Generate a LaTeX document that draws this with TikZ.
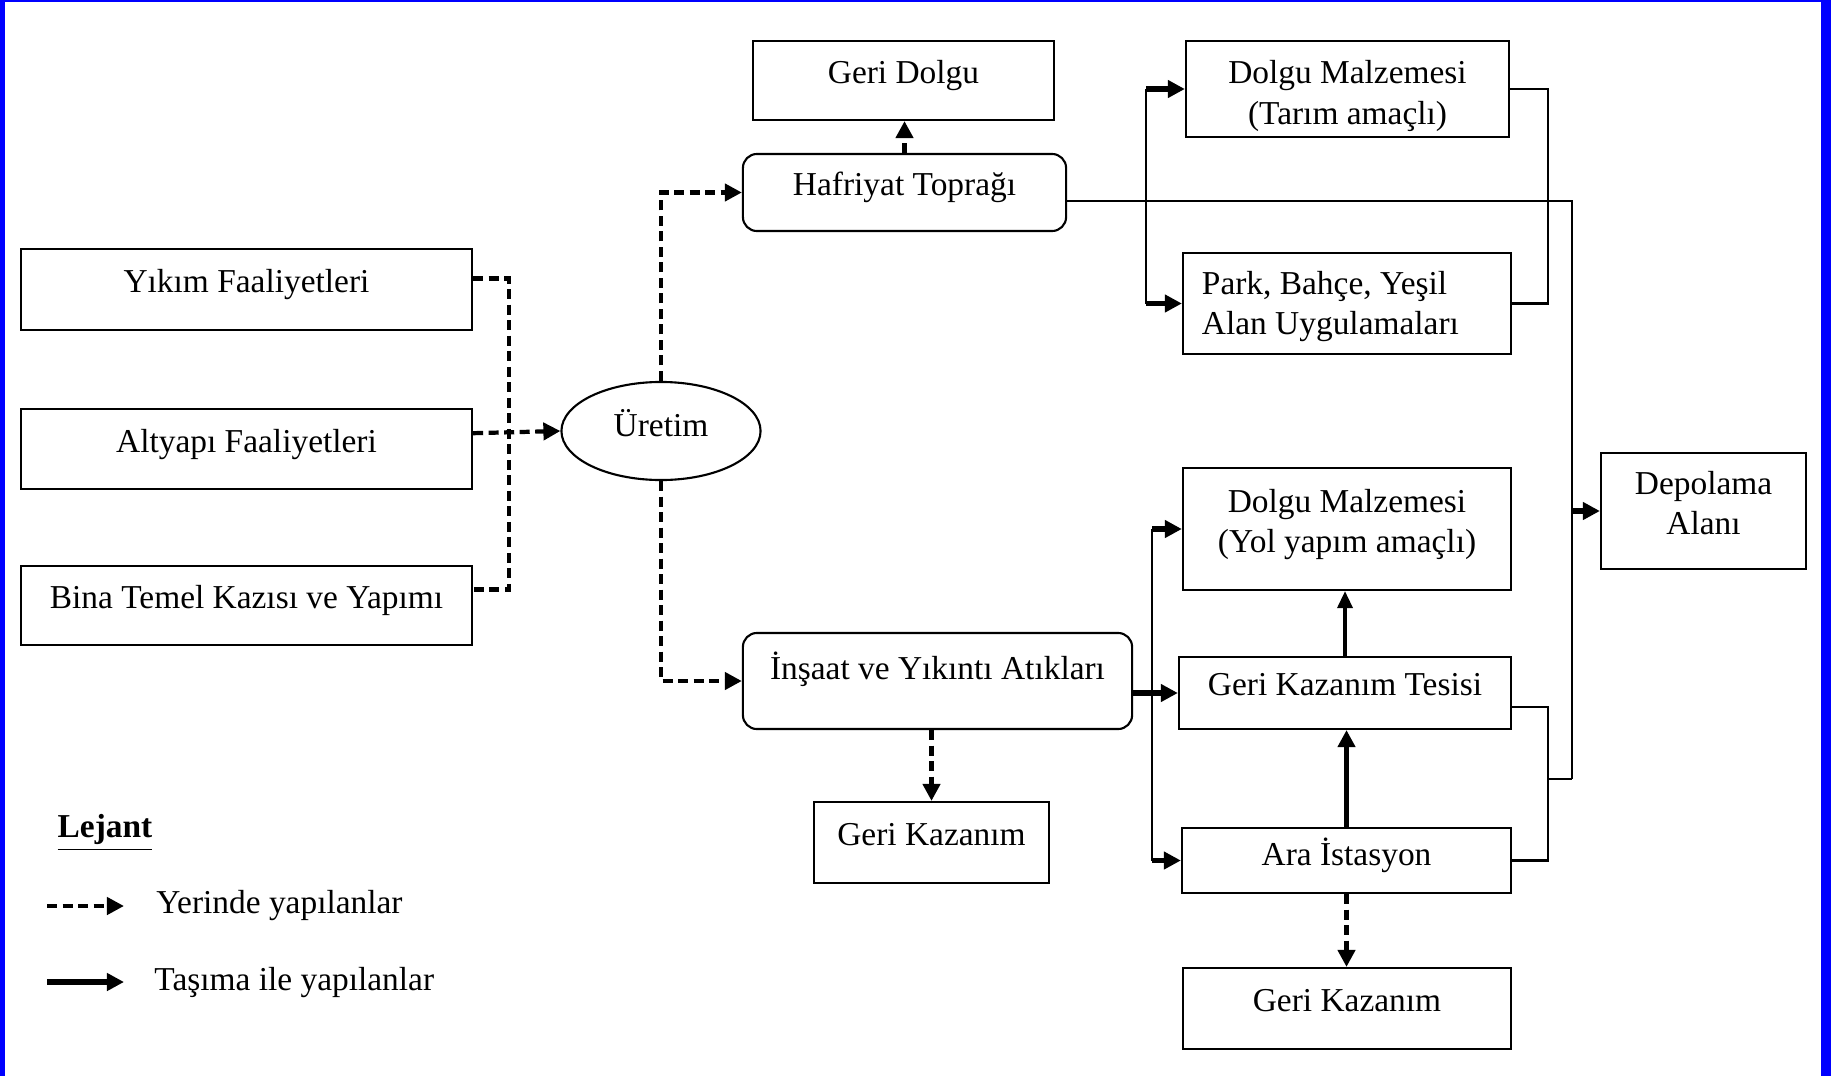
\documentclass[tikz,border=0pt]{standalone}
\usepackage{fontspec}
\setmainfont{Liberation Serif}
\usetikzlibrary{shapes.geometric, positioning, arrows.meta}

\begin{document}
\begin{tikzpicture}[x=0.01cm, y=-0.01cm,
    font=\fontsize{9.5}{11.4}\selectfont,
    box/.style={draw, rectangle, line width=0.6pt, align=center, inner sep=2pt, text depth=0.17cm},
    roundbox/.style={box, rounded corners=0.14cm},
    conn/.style={line width=0.6pt},
    dashline/.style={line width=1.2pt, dash pattern=on 0.1cm off 0.055cm},
    dasharrow/.style={dashline, -{Triangle[length=0.17cm, width=0.17cm]}},
    bigarrow/.style={line width=1.6pt, -{Triangle[length=0.17cm, width=0.17cm]}},
    medarrow/.style={line width=1pt, -{Triangle[length=0.17cm, width=0.15cm]}}]

    \useasboundingbox (0,0) rectangle (1831,1076);

    % Blue frame
    \fill[blue] (0,0) rectangle (5,1076);
    \fill[blue] (0,0) rectangle (1831,2);
    \fill[blue] (1821,0) rectangle (1831,1076);

    % Sources
    \node[box, minimum width=4.51cm, minimum height=0.81cm] (yikim) at (246.5,289.5) {Yıkım Faaliyetleri};
    \node[box, minimum width=4.51cm, minimum height=0.80cm, below=0.77cm of yikim] (altyapi) {Altyapı Faaliyetleri};
    \node[box, minimum width=4.51cm, minimum height=0.79cm, below=0.75cm of altyapi] (bina) {Bina Temel Kazısı ve Yapımı};

    % Production
    \node[draw, ellipse, line width=0.6pt, minimum width=1.99cm, minimum height=0.98cm, inner sep=0pt, text depth=0.17cm] (uretim) at (661,431) {Üretim};

    % Excavation soil branch
    \node[roundbox, minimum width=3.23cm, minimum height=0.77cm] (hafriyat) at (904.5,192.5) {Hafriyat Toprağı};
    \node[box, minimum width=3.01cm, minimum height=0.79cm] (geridolgu) at (903.5,80.5) {Geri Dolgu};
    \node[box, minimum width=3.23cm, minimum height=0.96cm, text depth=0.06cm, text height=0.76cm] (dolgutarim) at (1347.5,89) {Dolgu Malzemesi\\(Tarım amaçlı)};
    \node[box, align=flush left, text width=2.9cm, text depth=0.41cm, minimum width=3.28cm, minimum height=1.01cm] (park) at (1347,303.5) {Park, Bahçe, Yeşil\\Alan Uygulamaları};

    % Landfill
    \node[box, minimum width=2.05cm, minimum height=1.16cm] (depolama) at (1703.5,511) {Depolama\\Alanı};

    % Construction and demolition waste branch
    \node[roundbox, minimum width=3.89cm, minimum height=0.96cm, text depth=0.3cm] (insaat) at (937.5,681) {İnşaat ve Yıkıntı Atıkları};
    \node[box, minimum width=2.35cm, minimum height=0.81cm] (gerikaz1) at (931.5,842.5) {Geri Kazanım};
    \node[box, minimum width=3.28cm, minimum height=1.22cm] (dolguyol) at (1347,529) {Dolgu Malzemesi\\(Yol yapım amaçlı)};
    \node[box, minimum width=3.32cm, minimum height=0.72cm] (tesis) at (1345,693) {Geri Kazanım Tesisi};
    \node[box, minimum width=3.29cm, minimum height=0.65cm] (ara) at (1346.5,860.5) {Ara İstasyon};
    \node[box, minimum width=3.28cm, minimum height=0.81cm] (gerikaz2) at (1347,1008.5) {Geri Kazanım};

    % Bus points
    \coordinate (srcbus) at (509,431);
    \coordinate (tarbus) at (1146,201);
    \coordinate (yolbus) at (1152,693);
    \coordinate (tesbus) at (1548,779);
    \coordinate (depbus) at (1572,779);

    % On-site flows (dashed)
    \draw[dashline] ([yshift=0.11cm]yikim.east) -| (srcbus) |- ([yshift=0.165cm]bina.east);
    \draw[dasharrow] ([yshift=0.16cm]altyapi.east) -- (uretim.west);
    \draw[dasharrow] (uretim.north) |- (hafriyat.west);
    \draw[dasharrow] (uretim.south) |- (insaat.west);
    \draw[dasharrow] (hafriyat.north) -- (hafriyat.north |- geridolgu.south);
    \draw[dasharrow] (insaat.south -| gerikaz1) -- (gerikaz1.north);
    \draw[dasharrow] (ara.south) -- (ara.south |- gerikaz2.north);

    % Transport flows (solid)
    \draw[conn] ([yshift=-0.085cm]hafriyat.east) -| (depbus);
    \draw[conn] (dolgutarim.west -| tarbus) -- (park.west -| tarbus);
    \draw[bigarrow] (dolgutarim.west -| tarbus) -- (dolgutarim.west);
    \draw[bigarrow] (park.west -| tarbus) -- (park.west);
    \draw[conn] (dolgutarim.east) -- ++(38,0) |- (park.east);
    \draw[bigarrow] (depolama.west -| depbus) -- (depolama.west);

    \draw[bigarrow] (insaat.east |- tesis.west) -- (tesis.west);
    \draw[conn] (dolguyol.west -| yolbus) -- (ara.west -| yolbus);
    \draw[bigarrow] (dolguyol.west -| yolbus) -- (dolguyol.west);
    \draw[bigarrow] (ara.west -| yolbus) -- (ara.west);
    \draw[medarrow] (tesis.north) -- (tesis.north |- dolguyol.south);
    \draw[bigarrow] (ara.north) -- (ara.north |- tesis.south);
    \draw[conn] ([yshift=-0.14cm]tesis.east) -| (tesbus) |- (ara.east);
    \draw[conn] (tesbus) -- (depbus);

    % Legend
    \node[font=\fontsize{9.5}{11.4}\selectfont\bfseries] (lejant) at (105,833) {\underline{Lejant}};
    \node[anchor=west] (yerinde) at (144,906) {Yerinde yapılanlar};
    \node[anchor=west] (tasima) at (142,982) {Taşıma ile yapılanlar};
    \coordinate (leg1) at (47,906);
    \coordinate (leg2) at (47,982);
    \draw[dasharrow] (leg1) -- ([xshift=-0.2cm]yerinde.west);
    \draw[bigarrow] (leg2) -- ([xshift=-0.18cm]tasima.west);
\end{tikzpicture}
\end{document}
